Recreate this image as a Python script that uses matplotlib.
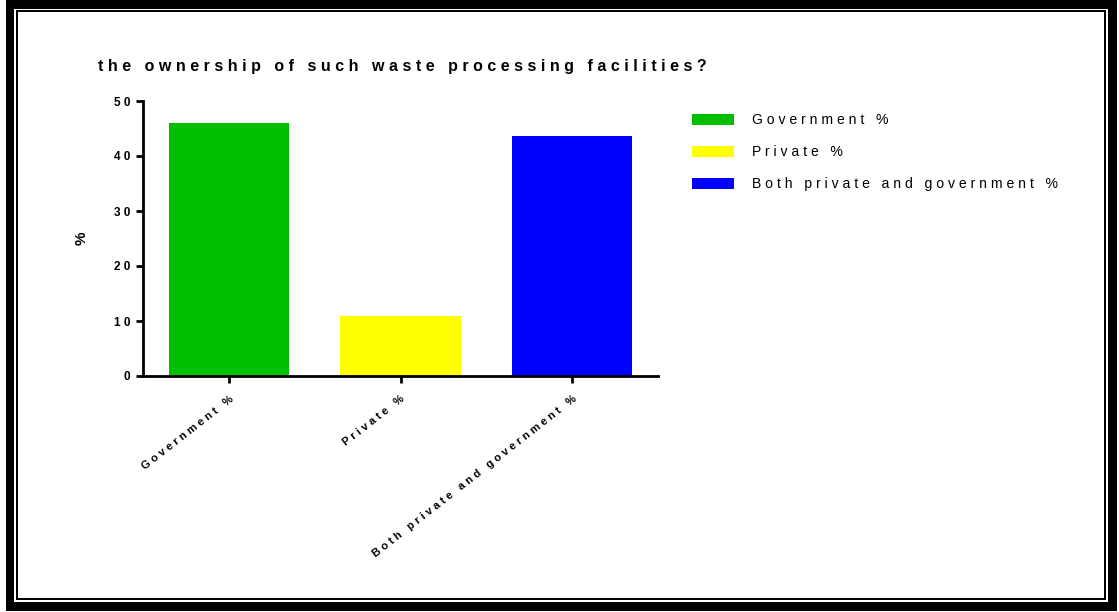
import matplotlib
matplotlib.use("Agg")
import matplotlib.pyplot as plt
from matplotlib.patches import Rectangle, Patch

# data
categories = ["Government %", "Private %", "Both private and government %"]
values = [46.0, 11.0, 43.6]
colors = ["#00bf00", "#ffff00", "#0000ff"]
title = "the ownership of such waste processing facilities?"


def spaced(txt):
    # fake letter spacing: put a space between every character
    return " ".join(txt)


plt.rcParams["font.family"] = ["Liberation Sans", "DejaVu Sans"]

W, H = 1119, 612
fig = plt.figure(figsize=(W / 100, H / 100), dpi=100)
ax = fig.add_axes([143 / W, 1 - 376 / H, (658 - 143) / W, (376 - 101) / H])

x = range(len(categories))
ax.bar(x, values, width=0.70, color=colors)
ax.set_xlim(-0.5, 2.5)
ax.set_ylim(0, 50)
ax.set_yticks([0, 10, 20, 30, 40, 50])
ax.set_yticklabels([spaced(str(v)) for v in [0, 10, 20, 30, 40, 50]],
                   fontsize=8.5, fontweight="bold")
ax.set_xticks(list(x))
ax.set_xticklabels([spaced(c) for c in categories], rotation=38, ha="right",
                   rotation_mode="anchor", fontsize=8.0, fontweight="bold")
ax.tick_params(axis="both", width=2, length=5, direction="out")
ax.tick_params(axis="x", pad=8)
ax.tick_params(axis="y", pad=4)
for s in ["top", "right"]:
    ax.spines[s].set_visible(False)
for s in ["left", "bottom"]:
    ax.spines[s].set_linewidth(2)
ax.set_ylabel("%", fontsize=11, fontweight="bold", labelpad=18)

fig.text(98 / W, 1 - 66 / H, spaced(title),
         fontsize=11.5, fontweight="bold", va="center", ha="left")

handles = [Patch(facecolor=c, edgecolor="none") for c in colors]
fig.legend(handles, [spaced(c) for c in categories], loc="upper left",
           bbox_to_anchor=(692 / W, 1 - 113 / H), frameon=False,
           fontsize=10.1, handlelength=3.0, handleheight=0.86,
           handletextpad=1.28, labelspacing=1.3, borderpad=0, borderaxespad=0)

# double frame round the picture (pixel positions)
def band(x0, y0, x1, y1):
    fig.add_artist(Rectangle((x0 / W, 1 - y1 / H), (x1 - x0) / W, (y1 - y0) / H,
                             transform=fig.transFigure, facecolor="black",
                             edgecolor="none"))

band(6, 0, 1117, 9)
band(6, 602, 1117, 611)
band(6, 0, 14, 611)
band(1108, 0, 1117, 611)
band(16, 10, 1106, 12)
band(16, 598, 1106, 600)
band(16, 10, 18, 600)
band(1104, 10, 1106, 600)

fig.savefig("out.png", dpi=100)
